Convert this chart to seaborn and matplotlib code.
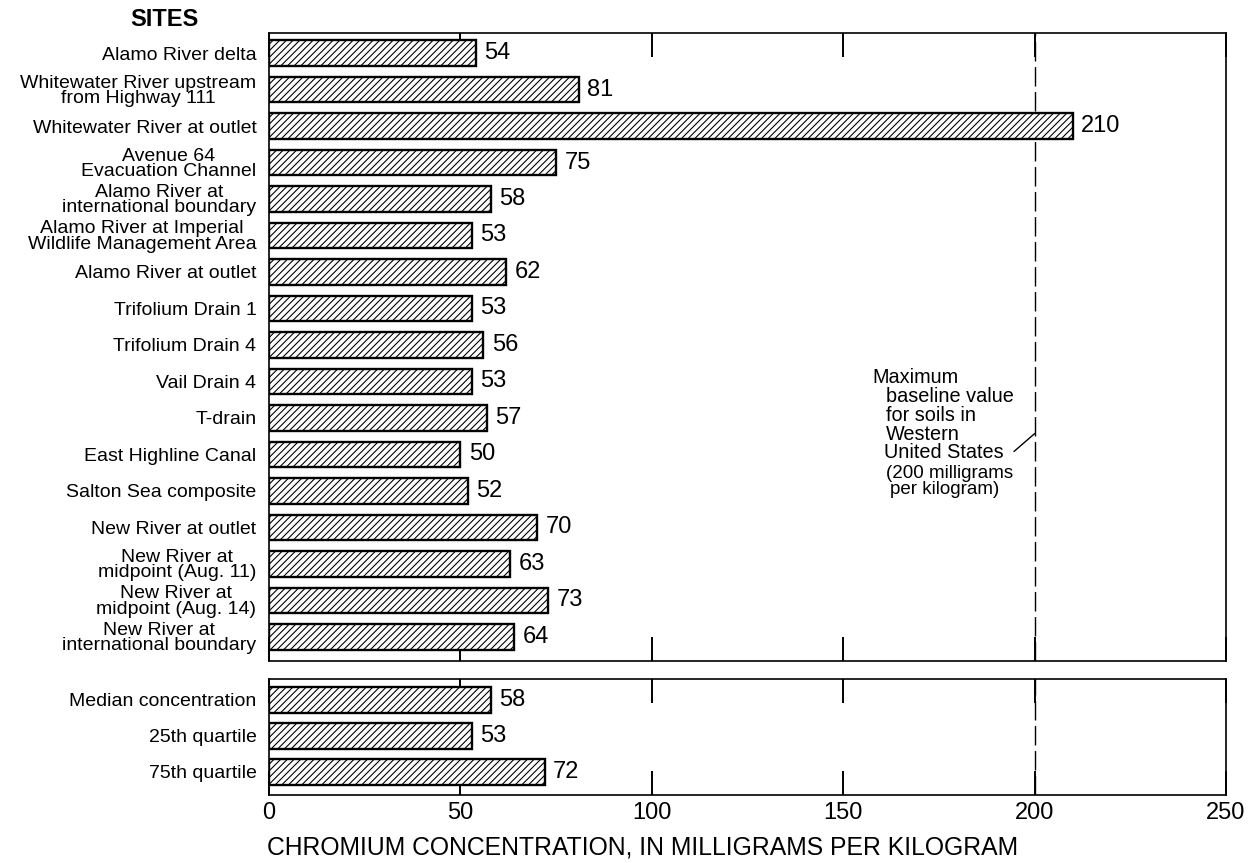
import matplotlib
matplotlib.use("Agg")
import matplotlib.pyplot as plt
import seaborn as sns
import pandas as pd

# Chromium concentrations in bottom sediment, milligrams per kilogram
sites = [
    "Alamo River delta",
    "Whitewater River upstream\nfrom Highway 111",
    "Whitewater River at outlet",
    "Avenue 64\nEvacuation Channel",
    "Alamo River at\ninternational boundary",
    "Alamo River at Imperial\nWildlife Management Area",
    "Alamo River at outlet",
    "Trifolium Drain 1",
    "Trifolium Drain 4",
    "Vail Drain 4",
    "T-drain",
    "East Highline Canal",
    "Salton Sea composite",
    "New River at outlet",
    "New River at\nmidpoint (Aug. 11)",
    "New River at\nmidpoint (Aug. 14)",
    "New River at\ninternational boundary",
]
site_values = [54, 81, 210, 75, 58, 53, 62, 53, 56, 53, 57, 50, 52, 70, 63, 73, 64]

summary_labels = ["Median concentration", "25th quartile", "75th quartile"]
summary_values = [58, 53, 72]

x_ticks = [0, 50, 100, 150, 200, 250]
baseline = 200

sns.set_style("white")
plt.rcParams["font.family"] = ["Liberation Sans", "DejaVu Sans"]
plt.rcParams["hatch.linewidth"] = 0.8
plt.rcParams["axes.edgecolor"] = "black"
plt.rcParams["axes.linewidth"] = 1.2
plt.rcParams["text.color"] = "black"
plt.rcParams["xtick.color"] = "black"
plt.rcParams["ytick.color"] = "black"
plt.rcParams["axes.labelcolor"] = "black"

fig = plt.figure(figsize=(12.48, 8.63), dpi=100)
ax_top = fig.add_axes([0.2155, 0.2341, 0.9824 - 0.2155, 0.9618 - 0.2341])
ax_bot = fig.add_axes([0.2155, 0.0788, 0.9824 - 0.2155, 0.2132 - 0.0788])

df_sites = pd.DataFrame({"site": sites, "value": site_values})
df_sum = pd.DataFrame({"site": summary_labels, "value": summary_values})


def draw_panel(ax, df, ylim):
    sns.barplot(data=df, x="value", y="site", orient="h", color="white",
                edgecolor="black", linewidth=1.7, width=0.7, saturation=1,
                ax=ax)
    for p in ax.patches:
        p.set_hatch("/////")
        p.set_facecolor("white")
        p.set_edgecolor("black")
    for i, v in enumerate(df["value"]):
        ax.text(v + 2.2, i, str(v), ha="left", va="center", fontsize=17)
    ax.axvline(baseline, color="black", lw=1.0, dashes=(14, 4), zorder=0)
    ax.set_xlim(0, 250)
    ax.set_ylim(*ylim)
    ax.set_xticks(x_ticks)
    ax.tick_params(axis="x", direction="in", length=17, width=1.4,
                   top=True, bottom=True, labelsize=17, pad=5)
    ax.tick_params(axis="y", length=0, labelsize=14, pad=9)
    for lab in ax.get_yticklabels():
        lab.set_multialignment("center")
        lab.set_linespacing(0.87)
    ax.set_ylabel("")
    ax.set_xlabel("")
    for s in ax.spines.values():
        s.set_visible(True)
        s.set_color("black")


draw_panel(ax_top, df_sites, (16.66, -0.55))
draw_panel(ax_bot, df_sum, (2.64, -0.58))
ax_top.tick_params(axis="x", labelbottom=False)

fig.text(0.515, 0.0174, "CHROMIUM CONCENTRATION, IN MILLIGRAMS PER KILOGRAM",
         ha="center", va="center", fontsize=17.8)
fig.text(0.1315, 0.977, "SITES", ha="center", va="center", fontsize=17,
         fontweight="bold")

# Note for the baseline reference line
note_lines = [
    ("Maximum", 157.5, 8.89, 14.3),
    ("baseline value", 161.2, 9.41, 14.3),
    ("for soils in", 161.2, 9.93, 14.3),
    ("Western", 161.2, 10.45, 14.3),
    ("United States", 160.7, 10.94, 14.3),
    ("(200 milligrams", 161.2, 11.52, 13.5),
    ("per kilogram)", 162.2, 11.96, 13.5),
]
for txt, x, y, size in note_lines:
    ax_top.text(x, y, txt, ha="left", va="center", fontsize=size)
ax_top.plot([194.6, 200], [10.92, 10.43], color="black", lw=1.0)

fig.savefig("out.png", dpi=100, facecolor="white")
